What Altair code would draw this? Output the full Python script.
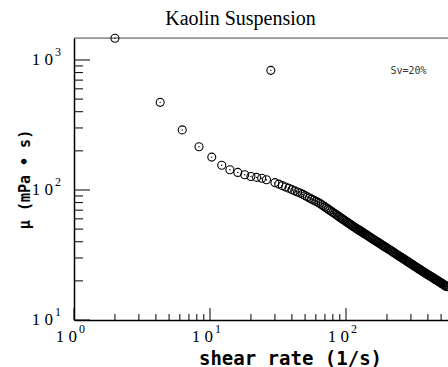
import altair as alt
import pandas as pd

# ---- data (shear rate in 1/s, viscosity in mPa·s) ----
shear_rate = [
    2, 4.3, 6.25, 8.3, 10.3, 12.2, 14, 16, 18, 20, 22, 24, 26, 28, 30, 32, 34, 36, 38, 40, 42, 44, 46, 48,
    50, 52, 54, 56, 58, 60, 62, 64, 66, 68, 70, 72, 74, 76, 78, 80, 82, 84, 86, 88, 90, 92, 94, 96, 98, 100,
    102, 104, 106, 108, 110, 112, 114, 116, 118, 120, 122, 124, 126, 128, 130, 132, 134, 136, 138, 140,
    143, 146, 149, 152, 155, 158, 161, 164, 167, 170, 173, 176, 179, 182, 185, 188, 191, 194, 197, 200,
    204, 208, 212, 216, 220, 224, 228, 232, 236, 240, 244, 248, 252, 256, 260, 264, 268, 272, 276, 280,
    284, 288, 292, 296, 300,
    305, 310, 315, 320, 325, 330, 335, 340, 345, 350, 355, 360, 365, 370, 375, 380, 385, 390, 395, 400,
    406, 412, 418, 424, 430, 436, 442, 448, 454, 460, 466, 472, 478, 484, 490, 496, 502, 508, 514, 520,
    526, 532, 538, 544, 550, 556]
viscosity = [
    1470, 472, 290, 215, 179, 155, 143, 136.5, 131, 127, 125, 123, 120, 832, 114, 111, 108, 105.5, 103, 100.7, 98.5, 96.5, 94.7, 92.6,
    90.5, 88.5, 86.7, 85.0, 83.4, 81.8, 80.4, 79.0, 77.3, 75.6, 74.1, 72.6, 71.2, 69.8, 68.5, 67.3, 66.1, 65.0, 63.9, 62.8, 61.8, 60.8, 59.9, 59.0, 58.2, 57.3,
    56.5, 55.7, 55.0, 54.2, 53.5, 52.8, 52.2, 51.6, 51.0, 50.4, 49.8, 49.3, 48.8, 48.3, 47.8, 47.3, 46.8, 46.3, 45.9, 45.4,
    44.8, 44.2, 43.5, 43.0, 42.4, 41.8, 41.3, 40.8, 40.3, 39.8, 39.4, 38.9, 38.5, 38.0, 37.6, 37.2, 36.8, 36.4, 36.1, 35.7,
    35.2, 34.8, 34.3, 33.9, 33.5, 33.0, 32.7, 32.3, 31.9, 31.5, 31.2, 30.8, 30.5, 30.2, 29.9, 29.6, 29.3, 29.0, 28.7, 28.4,
    28.1, 27.9, 27.6, 27.3, 27.1,
    26.8, 26.5, 26.2, 25.9, 25.7, 25.4, 25.1, 24.9, 24.6, 24.4, 24.2, 23.9, 23.7, 23.5, 23.3, 23.1, 22.9, 22.7, 22.5, 22.3,
    22.1, 21.9, 21.7, 21.5, 21.3, 21.1, 20.9, 20.7, 20.5, 20.4, 20.2, 20.0, 19.9, 19.7, 19.5, 19.4, 19.2, 19.1, 18.9, 18.8,
    18.6, 18.5, 18.4, 18.2, 18.1, 18.0]

x_major = [1, 10, 100]
x_minor = [2, 3, 4, 5, 6, 7, 8, 9, 20, 30, 40, 50, 60, 70, 80, 90, 200, 300, 400, 500]
y_major = [10, 100, 1000]
y_minor = [20, 30, 40, 50, 60, 70, 80, 90, 200, 300, 400, 500, 600, 700, 800, 900]

x_label_base = ["1 0", "1 0", "1 0"]
x_label_exp = ["0", "1", "2"]
y_label_base = ["1 0", "1 0", "1 0"]
y_label_exp = ["1", "2", "3"]

chart_title = "Kaolin Suspension"
x_title = "shear rate (1/s)"
y_title = "\u03bc (mPa \u2022 s)"
note = "Sv=20%"

# ---- layout ----
W, H = 374, 282
xscale = alt.Scale(type="log", domain=[1, 562], nice=False)
yscale = alt.Scale(type="log", domain=[10, 1476], nice=False)

xaxis = alt.Axis(title=x_title, labels=False, ticks=False, grid=False,
                 domainColor="black", domainWidth=1.5,
                 titleFont="DejaVu Sans Mono", titleFontSize=19, titleFontWeight="bold",
                 titleColor="black", titleX=216, titleY=44, titleAlign="center",
                 titleBaseline="alphabetic")
yaxis = alt.Axis(title=y_title, labels=False, ticks=False, grid=False,
                 domainColor="black", domainWidth=1.5,
                 titleFont="DejaVu Sans Mono", titleFontSize=15, titleFontWeight="bold",
                 titleColor="black", titleAngle=270, titleX=-50, titleY=141,
                 titleAlign="center", titleBaseline="middle")


def X(f):
    return alt.X(f, type="quantitative", scale=xscale, axis=xaxis)


def Y(f):
    return alt.Y(f, type="quantitative", scale=yscale, axis=yaxis)


pts = pd.DataFrame({"x": shear_rate, "y": viscosity})

circles = alt.Chart(pts).mark_point(shape="circle", filled=False, size=64,
                                    strokeWidth=1.1, color="black", opacity=1).encode(x=X("x"), y=Y("y"))
dots = alt.Chart(pts).mark_point(shape="circle", filled=True, size=2,
                                 color="black", opacity=1).encode(x=X("x"), y=Y("y"))

xt_major = alt.Chart(pd.DataFrame({"v": x_major})).mark_rule(color="black", strokeWidth=1).encode(
    x=X("v"), y=alt.value(H), y2=alt.value(H - 12))
xt_minor = alt.Chart(pd.DataFrame({"v": x_minor})).mark_rule(color="black", strokeWidth=1).encode(
    x=X("v"), y=alt.value(H), y2=alt.value(H - 6))
yt_major = alt.Chart(pd.DataFrame({"v": y_major})).mark_rule(color="black", strokeWidth=1).encode(
    y=Y("v"), x=alt.value(0), x2=alt.value(16))
yt_minor = alt.Chart(pd.DataFrame({"v": y_minor})).mark_rule(color="black", strokeWidth=1).encode(
    y=Y("v"), x=alt.value(0), x2=alt.value(9))

top_line = alt.Chart(pd.DataFrame({"a": [0]})).mark_rule(color="#555555", strokeWidth=1.2).encode(
    x=alt.value(0), x2=alt.value(W), y=alt.value(0))

xl = pd.DataFrame({"v": x_major, "base": x_label_base, "exp": x_label_exp})
yl = pd.DataFrame({"v": y_major, "base": y_label_base, "exp": y_label_exp})

xl_base = alt.Chart(xl).mark_text(font="Liberation Serif", fontSize=17, align="right",
                                  baseline="alphabetic", dx=3, color="black").encode(
    x=X("v"), y=alt.value(304), text="base:N")
xl_exp = alt.Chart(xl).mark_text(font="Liberation Serif", fontSize=12, align="left",
                                 baseline="alphabetic", dx=5, color="black").encode(
    x=X("v"), y=alt.value(295), text="exp:N")
yl_base = alt.Chart(yl).mark_text(font="Liberation Serif", fontSize=17, align="right",
                                  baseline="alphabetic", dy=5, color="black").encode(
    y=Y("v"), x=alt.value(-21), text="base:N")
yl_exp = alt.Chart(yl).mark_text(font="Liberation Serif", fontSize=12, align="left",
                                 baseline="alphabetic", dy=-4, color="black").encode(
    y=Y("v"), x=alt.value(-19), text="exp:N")

title_txt = alt.Chart(pd.DataFrame({"t": [chart_title]})).mark_text(
    font="Liberation Serif", fontSize=20, align="center", baseline="alphabetic", color="black").encode(
    x=alt.value(166.5), y=alt.value(-13), text="t:N")
note_txt = alt.Chart(pd.DataFrame({"t": [note]})).mark_text(
    font="DejaVu Sans Mono", fontSize=10, align="left", baseline="alphabetic", color="#333333").encode(
    x=alt.value(316.5), y=alt.value(36), text="t:N")

chart = alt.layer(
    xt_minor, xt_major, yt_minor, yt_major, top_line,
    circles, dots,
    xl_base, xl_exp, yl_base, yl_exp, title_txt, note_txt
).properties(
    width=W, height=H,
    autosize=alt.AutoSizeParams(type="none"),
    padding={"left": 74, "top": 38, "right": 0, "bottom": 47},
).configure_view(stroke=None).configure(background="white")

chart.save("out.html", embed_options={"renderer": "svg", "actions": False})
